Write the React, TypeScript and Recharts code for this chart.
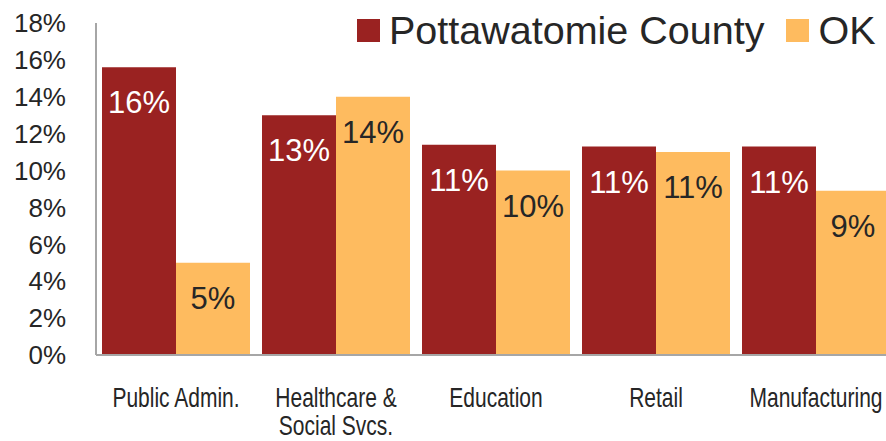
import { BarChart, Bar, XAxis, YAxis, Legend, LabelList } from "recharts";

const categories = ["Public Admin.", "Healthcare & Social Svcs.", "Education", "Retail", "Manufacturing"];
const countyValues = [15.6, 13.0, 11.4, 11.3, 11.3];
const okValues = [5.0, 14.0, 10.0, 11.0, 8.9];
const yTicks = [0, 2, 4, 6, 8, 10, 12, 14, 16, 18];
// how category names wrap under the axis
const tickLines: Record<string, string[]> = {
  "Healthcare & Social Svcs.": ["Healthcare &", "Social Svcs."],
};

const RED = "#9a2221";
const ORANGE = "#febb5f";
const FONT = "'Liberation Sans', Arial, sans-serif";

const data = categories.map((c, i) => ({
  name: c,
  county: countyValues[i],
  ok: okValues[i],
}));

// condensed look of the original labels: squeeze the text horizontally
function CategoryTick(props: any) {
  const { x, y, payload } = props;
  const lines = tickLines[payload.value] ?? [payload.value];
  return (
    <g transform={`translate(${x},${y + 44}) scale(0.75,1)`}>
      <text x={0} y={0} textAnchor="middle" fill="#262626" fontSize={28} fontFamily={FONT}>
        {lines.map((l, i) => (
          <tspan key={i} x={0} dy={i === 0 ? 0 : 28}>
            {l}
          </tspan>
        ))}
      </text>
    </g>
  );
}

function LegendBox() {
  const items = [
    { label: "Pottawatomie County", color: RED },
    { label: "OK", color: ORANGE },
  ];
  return (
    <div style={{ display: "flex", alignItems: "center", fontFamily: FONT, fontSize: 39.5, color: "#262626", whiteSpace: "nowrap" }}>
      {items.map((it, i) => (
        <div key={it.label} style={{ display: "flex", alignItems: "center", marginLeft: i === 0 ? 0 : 22 }}>
          <span style={{ display: "inline-block", width: 23, height: 23, background: it.color, marginRight: 9 }} />
          <span>{it.label}</span>
        </div>
      ))}
    </div>
  );
}

export default function App() {
  return (
    <div style={{ position: "absolute", left: 0, top: 0, width: 886, height: 441, overflow: "hidden", background: "#fff" }}>
      <BarChart
        width={896}
        height={441}
        data={data}
        margin={{ top: 23, right: 0, bottom: 0, left: 0 }}
        barCategoryGap={6}
        barGap={0}
      >
        <XAxis
          dataKey="name"
          height={86}
          tickLine={false}
          interval={0}
          axisLine={{ stroke: "#a6a6a6", strokeWidth: 2 }}
          tick={<CategoryTick />}
        />
        <YAxis
          width={96}
          domain={[0, 18]}
          ticks={yTicks}
          tickFormatter={(v: number) => `${v}%`}
          tickLine={false}
          tickSize={0}
          tickMargin={30}
          axisLine={{ stroke: "#a6a6a6", strokeWidth: 2 }}
          tick={{ fill: "#262626", fontSize: 26, fontFamily: FONT }}
        />
        <Legend
          layout="horizontal"
          verticalAlign="middle"
          align="center"
          wrapperStyle={{ top: 8, left: 357, width: "auto" }}
          content={() => <LegendBox />}
        />
        <Bar dataKey="county" fill={RED} isAnimationActive={false}>
          <LabelList
            dataKey="county"
            position="insideTop"
            offset={24}
            formatter={(v: any) => `${Math.round(v)}%`}
            fill="#ffffff"
            fontSize={31}
            fontFamily={FONT}
          />
        </Bar>
        <Bar dataKey="ok" fill={ORANGE} isAnimationActive={false}>
          <LabelList
            dataKey="ok"
            position="insideTop"
            offset={24}
            formatter={(v: any) => `${Math.round(v)}%`}
            fill="#262626"
            fontSize={31}
            fontFamily={FONT}
          />
        </Bar>
      </BarChart>
    </div>
  );
}
